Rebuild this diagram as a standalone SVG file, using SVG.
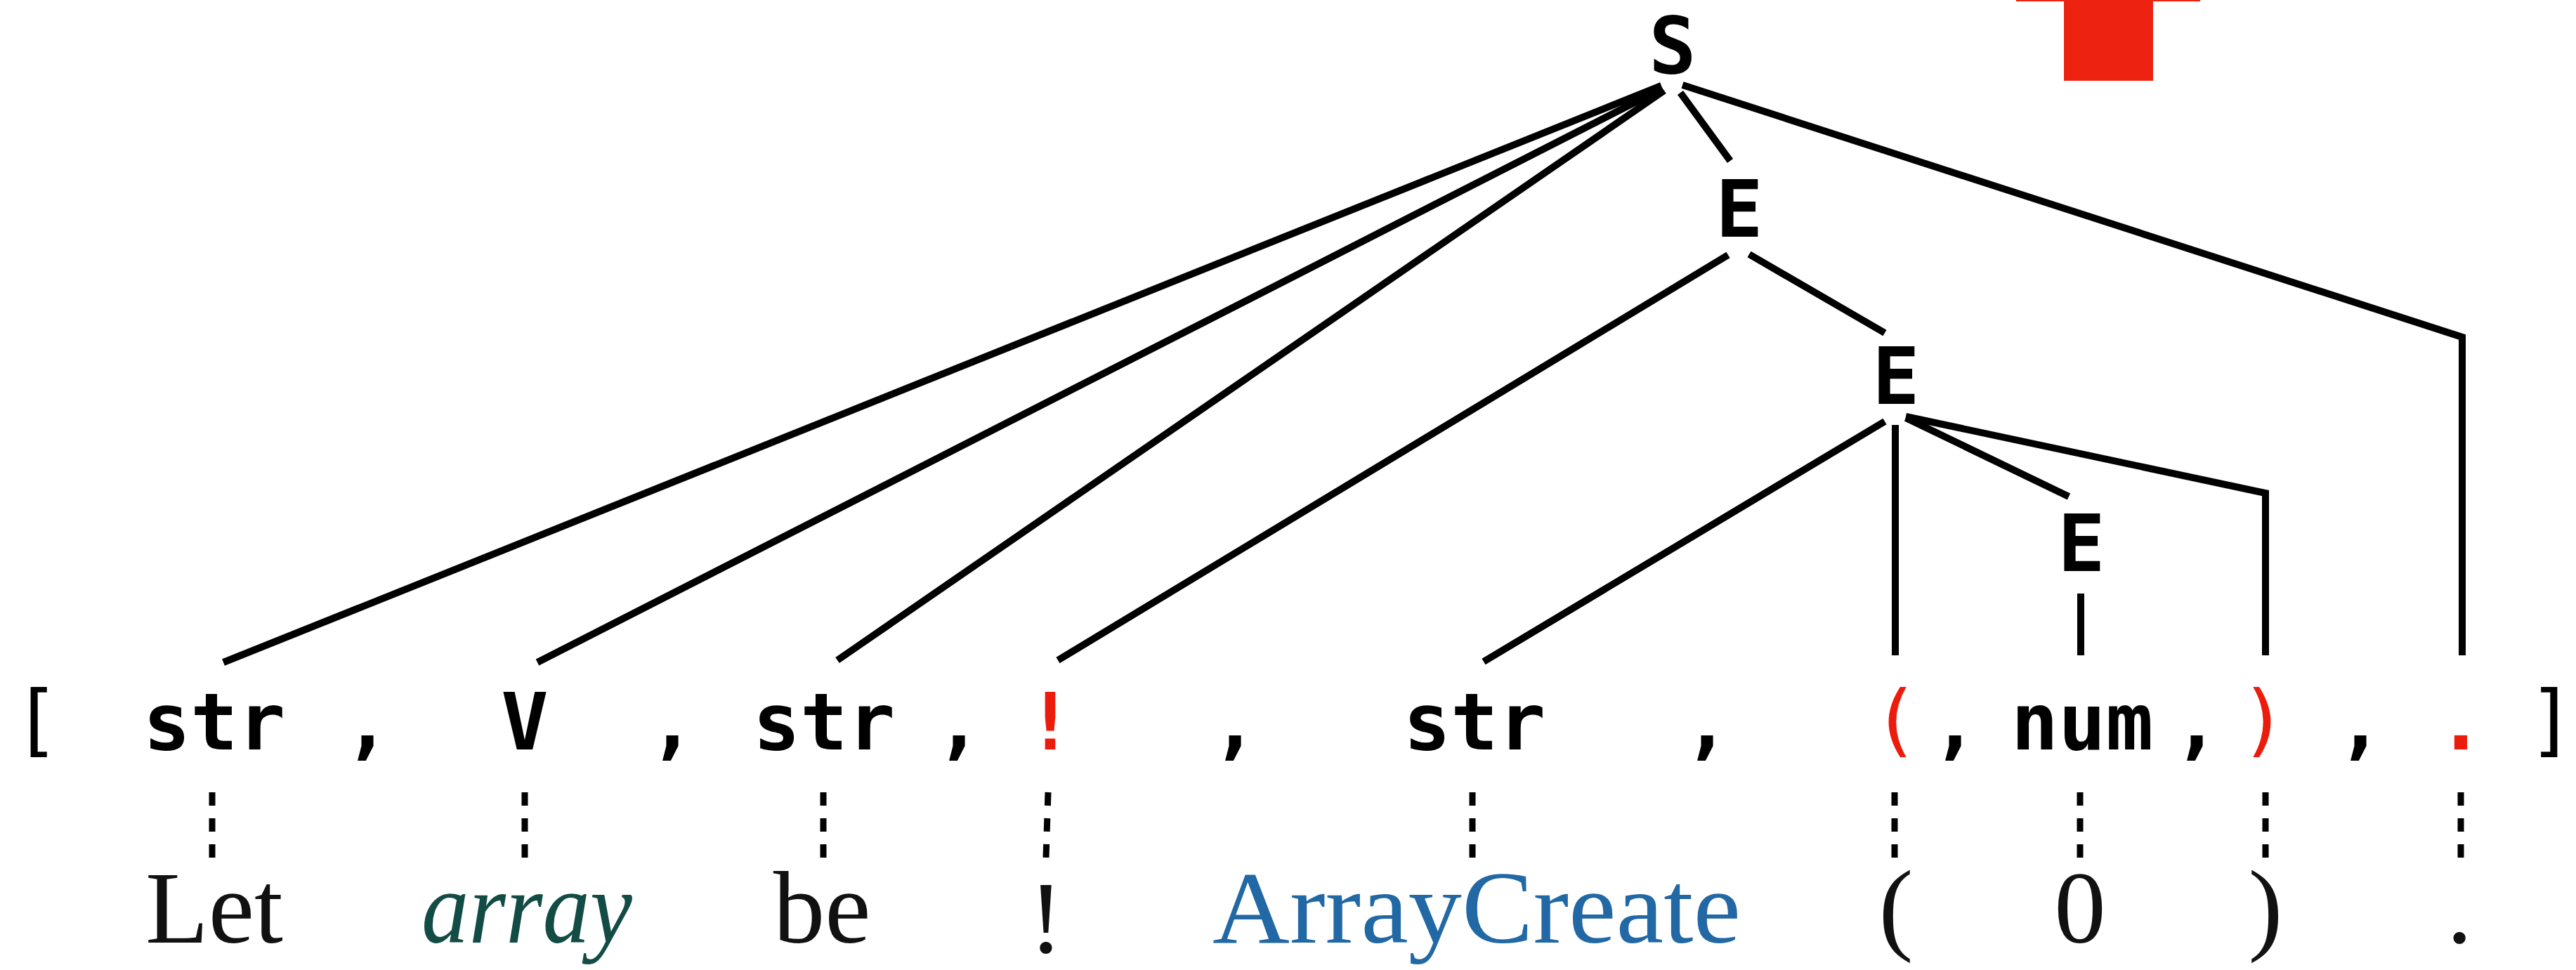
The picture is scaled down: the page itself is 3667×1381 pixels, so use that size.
<svg xmlns="http://www.w3.org/2000/svg" width="3667" height="1381" viewBox="0 0 3667 1381">
<style>
.nt{font-family:"DejaVu Sans Mono",monospace;font-weight:bold;font-size:112px;fill:#000;text-anchor:middle}
.tk{font-family:"DejaVu Sans Mono",monospace;font-weight:bold;font-size:112px;fill:#000;text-anchor:middle}
.br{font-family:"DejaVu Sans Mono",monospace;font-weight:normal;font-size:112px;fill:#000;text-anchor:middle}
.red{fill:#ec1c0c}
.wd{font-family:"Liberation Serif",serif;font-size:147px;fill:#111;text-anchor:middle}
.edge{stroke:#000;stroke-width:10;fill:none;stroke-linecap:butt;stroke-linejoin:miter}
.dash{stroke:#000;stroke-width:9;fill:none;stroke-dasharray:19 18}
</style>
<rect x="0" y="0" width="3667" height="1381" fill="#fff"/>
<path d="M2870 0 H3132 V2 H3065 V115 H2938 V2 H2870 Z" fill="#ee2211"/>
<g id="connectors">
<line class="edge" x1="2365" y1="122" x2="318" y2="943"/>
<line class="edge" x1="2366" y1="126" x2="765" y2="943"/>
<line class="edge" x1="2369" y1="129" x2="1192" y2="940"/>
<line class="edge" x1="2392" y1="132" x2="2463" y2="229"/>
<polyline class="edge" points="2395,121 3505,480 3505,933"/>
<line class="edge" x1="2460" y1="363" x2="1506" y2="940"/>
<line class="edge" x1="2490" y1="362" x2="2683" y2="474"/>
<line class="edge" x1="2683" y1="600" x2="2112" y2="942"/>
<line class="edge" x1="2698" y1="605" x2="2698" y2="933"/>
<line class="edge" x1="2713" y1="595" x2="2945" y2="707"/>
<polyline class="edge" points="2713,593 3225,702 3225,933"/>
<line class="edge" x1="2962" y1="845" x2="2962" y2="933"/>
<line class="dash" x1="302" y1="1128" x2="302" y2="1221"/>
<line class="dash" x1="747" y1="1128" x2="747" y2="1221"/>
<line class="dash" x1="1172" y1="1128" x2="1172" y2="1221"/>
<line class="dash" x1="1492" y1="1128" x2="1489" y2="1221"/>
<line class="dash" x1="2096" y1="1128" x2="2096" y2="1221"/>
<line class="dash" x1="2697" y1="1128" x2="2697" y2="1221"/>
<line class="dash" x1="2961" y1="1128" x2="2961" y2="1221"/>
<line class="dash" x1="3225" y1="1128" x2="3225" y2="1221"/>
<line class="dash" x1="3503" y1="1128" x2="3503" y2="1221"/>
</g>
<g id="node-S"><text class="nt" x="2381" y="104">S</text></g>
<g id="node-E1"><text class="nt" x="2476" y="337">E</text></g>
<g id="node-E2"><text class="nt" x="2699" y="575">E</text></g>
<g id="node-E3"><text class="nt" x="2963" y="813">E</text></g>
<g id="tokens">
<g id="tok-lbr"><text class="br" x="52" y="1063">[</text></g>
<g id="tok-str1"><text class="tk" x="305" y="1067">str</text></g>
<g id="tok-c1"><text class="tk" x="523" y="1067">,</text></g>
<g id="tok-V"><text class="tk" x="747" y="1067">V</text></g>
<g id="tok-c2"><text class="tk" x="957" y="1067">,</text></g>
<g id="tok-str2"><text class="tk" x="1173" y="1067">str</text></g>
<g id="tok-c3"><text class="tk" x="1365" y="1067">,</text></g>
<g id="tok-excl"><text class="tk red" x="1495" y="1067">!</text></g>
<g id="tok-c4"><text class="tk" x="1758" y="1067">,</text></g>
<g id="tok-str3"><text class="tk" x="2099" y="1067">str</text></g>
<g id="tok-c5"><text class="tk" x="2430" y="1067">,</text></g>
<g id="tok-lp"><text class="br red" x="2699" y="1063">(</text></g>
<g id="tok-c6"><text class="tk" x="2783" y="1067">,</text></g>
<g id="tok-num"><text class="tk" x="2964" y="1067">num</text></g>
<g id="tok-c7"><text class="tk" x="3127" y="1067">,</text></g>
<g id="tok-rp"><text class="br red" x="3222" y="1063">)</text></g>
<g id="tok-c8"><text class="tk" x="3360" y="1067">,</text></g>
<g id="tok-dot"><text class="tk red" x="3503" y="1067">.</text></g>
<g id="tok-rbr"><text class="br" x="3632" y="1063">]</text></g>
</g>
<g id="words">
<g id="w-let"><text class="wd" x="305" y="1342">Let</text></g>
<g id="w-array"><text class="wd" x="750" y="1342" font-style="italic" style="fill:#124c45" textLength="300" lengthAdjust="spacingAndGlyphs">array</text></g>
<g id="w-be"><text class="wd" x="1170" y="1342">be</text></g>
<g id="w-excl"><text class="wd" x="1489" y="1356">!</text></g>
<g id="w-arraycreate"><text class="wd" x="2102" y="1342" style="fill:#2168a5" textLength="752" lengthAdjust="spacingAndGlyphs">ArrayCreate</text></g>
<g id="w-lp"><text class="wd" x="2699" y="1340">(</text></g>
<g id="w-0"><text class="wd" x="2961" y="1342">0</text></g>
<g id="w-rp"><text class="wd" x="3225" y="1340">)</text></g>
<g id="w-dot"><text class="wd" x="3501" y="1342">.</text></g>
</g>
</svg>
